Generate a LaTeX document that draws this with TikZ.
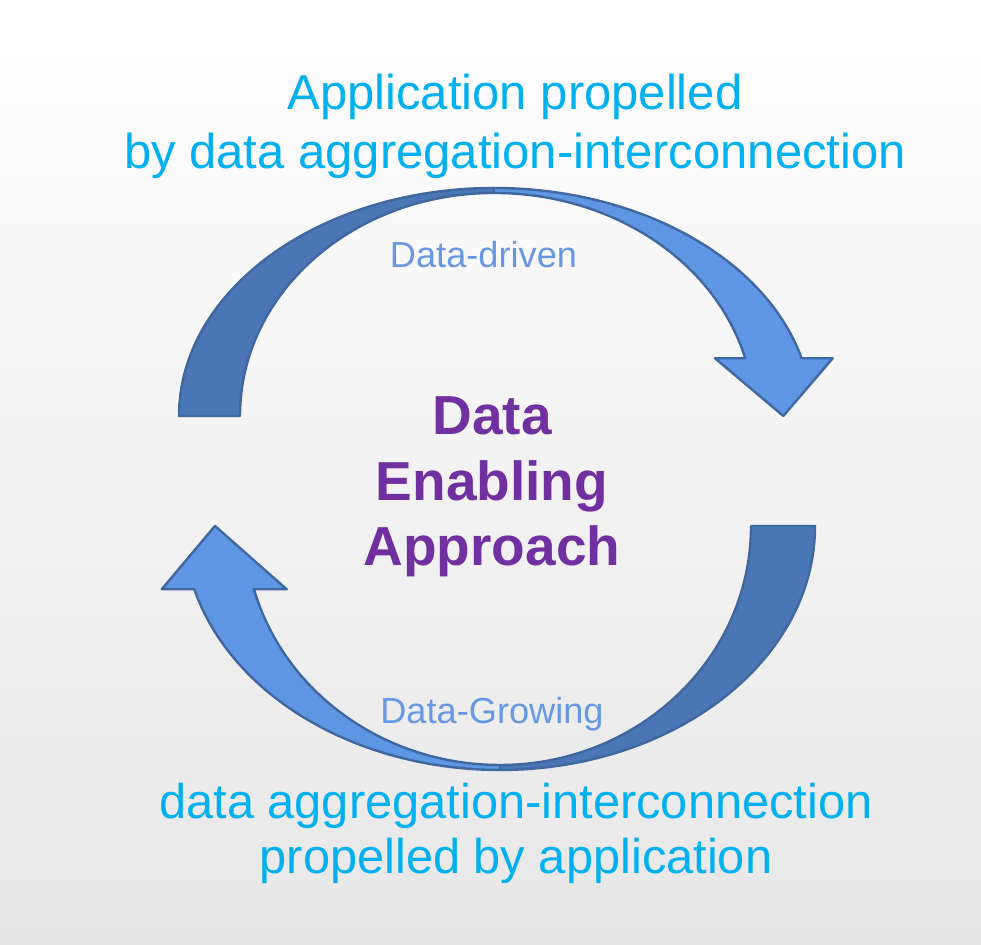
\documentclass[tikz,border=0pt]{standalone}
\usepackage{fontspec}
\setmainfont{Liberation Sans}

\definecolor{fondo}{RGB}{231,231,231}
\definecolor{oscuro}{RGB}{74,118,182}
\definecolor{claro}{RGB}{94,150,228}
\definecolor{borde}{RGB}{64,103,160}
\definecolor{cian}{RGB}{0,176,240}
\definecolor{etiq}{RGB}{104,152,228}
\definecolor{morado}{RGB}{112,48,160}

\begin{document}
\begin{tikzpicture}[x=0.5pt, y=0.5pt,
    banda oscura/.style={fill=oscuro, draw=borde, line width=1.2pt, line join=round},
    banda clara/.style={fill=claro, draw=borde, line width=1.2pt, line join=round},
    texto cian/.style={text=cian, inner sep=0pt, align=center},
    etiqueta/.style={text=etiq, inner sep=0pt, font=\fontsize{18.1}{22}\selectfont},
    centro/.style={text=morado, inner sep=0pt, align=center,
        font=\bfseries\fontsize{27.5}{32.9}\selectfont}]

    % Fondo
    \shade[top color=white, bottom color=fondo] (0,0) rectangle (981,945);

    % Flecha de arriba
    \begin{scope}[shift={(494,529)}]
        \draw[banda oscura] (-315,0) arc[start angle=180, end angle=90, x radius=315, y radius=228]
            -- (0,223) arc[start angle=90, end angle=180, x radius=254, y radius=223] -- cycle;
        \draw[banda clara] (0,228) arc[start angle=90, end angle=14.66, x radius=318, y radius=228]
            -- (338.7,57.7) -- (289.3,0) -- (221,57.7) -- (251.2,57.7)
            arc[start angle=14.99, end angle=90, x radius=260, y radius=223] -- cycle;
    \end{scope}

    % Flecha de abajo (girada)
    \begin{scope}[shift={(500,419)}, rotate=180]
        \draw[banda oscura] (-315,0) arc[start angle=180, end angle=90, x radius=315, y radius=244]
            -- (0,239) arc[start angle=90, end angle=180, x radius=251, y radius=239] -- cycle;
        \draw[banda clara] (0,244) arc[start angle=90, end angle=15.04, x radius=316.5, y radius=244]
            -- (338.3,63.3) -- (285,0) -- (213.3,63.3) -- (246,63.3)
            arc[start angle=15.36, end angle=90, x radius=255.1, y radius=239] -- cycle;
    \end{scope}

    % Textos
    \node[texto cian, font=\fontsize{24.5}{29.5}\selectfont] (arriba) at (515,819)
        {Application propelled\\by data aggregation-interconnection};
    \node[texto cian, font=\fontsize{24.4}{27.5}\selectfont] (abajo) at (516,112)
        {data aggregation-interconnection\\propelled by application};
    \node[etiqueta, anchor=base] (impulso) at (483.5,677) {Data-driven};
    \node[etiqueta, anchor=base] (crecer) at (492,221) {Data-Growing};
    \node[centro] (enfoque) at (492,458) {Data\\Enabling\\Approach};

\end{tikzpicture}
\end{document}
